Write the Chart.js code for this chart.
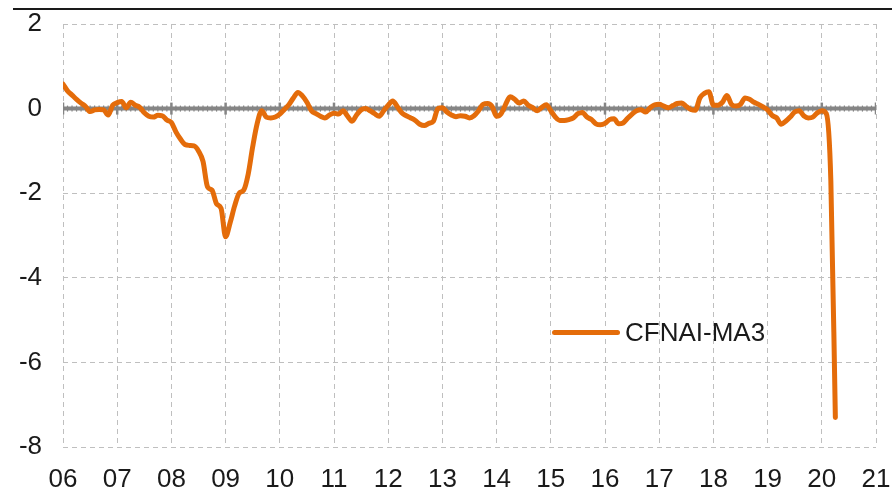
<!DOCTYPE html>
<html>

<head>
    <meta charset="UTF-8">
    <title>CFNAI-MA3</title>
    <script src="https://cdn.jsdelivr.net/npm/chart.js@4.4.1/dist/chart.umd.min.js"></script>
    <style>
        body { margin: 0; background: #fff; }
        #wrap { position: relative; width: 892px; height: 489px; }
        #topline { position: absolute; left: 13px; right: 0; top: 8px; border-top: 2px solid #1a1a1a; }
        #legend { position: absolute; left: 552px; top: 316px; height: 32px; display: flex; align-items: center;
            font-family: 'Liberation Sans', Arial, sans-serif; font-size: 26px; color: #1a1a1a; }
        #legend span.swatch { display: inline-block; width: 68px; height: 5px; border-radius: 3px; background: #e46c0a; margin-right: 5px; }
    </style>
</head>

<body>
    <div id="wrap">
        <canvas id="line-chart"></canvas>
        <div id="topline"></div>
        <div id="legend"><span class="swatch"></span><span id="legend-text"></span></div>
    </div>
</body>

<script>
    // monthly values, Jan 2006 .. Apr 2020
    var seriesName = 'CFNAI-MA3';
    var yearLabels = ['06', '07', '08', '09', '10', '11', '12', '13', '14', '15', '16', '17', '18', '19', '20', '21'];
    var cfnaiMa3 = [
        0.58, 0.42, 0.32, 0.22, 0.13, 0.05, -0.07, -0.03, -0.02, -0.03, -0.15, 0.08,
        0.14, 0.17, 0.02, 0.15, 0.08, 0.03, -0.10, -0.18, -0.20, -0.16, -0.17, -0.27,
        -0.33, -0.55, -0.72, -0.85, -0.87, -0.88, -1.00, -1.25, -1.85, -1.93, -2.25, -2.36,
        -3.03, -2.70, -2.30, -2.00, -1.93, -1.55, -0.90, -0.35, -0.05, -0.20, -0.22, -0.20,
        -0.13, -0.02, 0.09, 0.25, 0.38, 0.30, 0.15, -0.05, -0.12, -0.18, -0.22, -0.15,
        -0.11, -0.13, -0.05, -0.18, -0.30, -0.15, -0.03, 0.00, -0.05, -0.12, -0.18, -0.05,
        0.08, 0.18, 0.05, -0.10, -0.17, -0.22, -0.28, -0.37, -0.40, -0.35, -0.30, 0.00,
        0.02, -0.08, -0.15, -0.19, -0.17, -0.18, -0.22, -0.17, -0.05, 0.10, 0.12, 0.05,
        -0.18, -0.12, 0.10, 0.28, 0.22, 0.13, 0.18, 0.08, 0.02, -0.05, 0.03, 0.09,
        -0.05, -0.20, -0.28, -0.28, -0.26, -0.22, -0.12, -0.09, -0.20, -0.26, -0.36, -0.38,
        -0.35, -0.26, -0.24, -0.36, -0.34, -0.23, -0.13, -0.05, -0.03, -0.08, 0.02, 0.09,
        0.10, 0.06, 0.02, 0.07, 0.12, 0.13, 0.05, -0.02, -0.04, 0.25, 0.36, 0.40,
        0.08, 0.08, 0.15, 0.31, 0.10, 0.06, 0.10, 0.25, 0.22, 0.15, 0.10, 0.04,
        -0.03, -0.16, -0.22, -0.37, -0.30, -0.20, -0.08, -0.05, -0.17, -0.22, -0.20, -0.10,
        -0.05, -0.12, -1.70, -7.30
    ];

    var orange = '#e46c0a';
    var gridGray = '#bfbfbf';
    var axisGray = '#858585';
    var font = { family: "'Liberation Sans', Arial, sans-serif", size: 26 };

    var linePoints = cfnaiMa3.map(function (v, i) { return { x: i, y: v }; });
    // the zero axis line, with a small mark each month and a bigger one each year
    var zeroPoints = [];
    for (var m = 0; m <= 12 * (yearLabels.length - 1); m++) {
        zeroPoints.push({ x: m, y: 0 });
    }

    document.getElementById('legend-text').textContent = seriesName;

    var chart = new Chart(document.getElementById('line-chart'), {
        type: 'line',
        data: {
            datasets: [{
                label: seriesName,
                data: linePoints,
                borderColor: orange,
                borderWidth: 5,
                pointRadius: 0,
                cubicInterpolationMode: 'monotone',
                borderCapStyle: 'round',
                borderJoinStyle: 'round',
                fill: false
            }, {
                label: 'zero',
                data: zeroPoints,
                borderColor: axisGray,
                borderWidth: 4,
                pointStyle: 'line',
                rotation: 90,
                pointBorderColor: axisGray,
                pointBorderWidth: function (ctx) { return ctx.dataIndex % 12 === 0 ? 2.5 : 1.2; },
                pointRadius: function (ctx) { return ctx.dataIndex % 12 === 0 ? 6 : 3; },
                fill: false
            }]
        },
        options: {
            responsive: true,
            maintainAspectRatio: false,
            animation: false,
            layout: { padding: { left: 0, right: 16, top: 24, bottom: 0 } },
            plugins: {
                legend: { display: false },
                tooltip: { enabled: false }
            },
            scales: {
                x: {
                    type: 'linear',
                    min: 0,
                    max: 180,
                    border: { display: false, dash: [5, 4] },
                    grid: { color: gridGray, lineWidth: 1, drawTicks: false },
                    ticks: {
                        stepSize: 12,
                        padding: 17,
                        color: '#1a1a1a',
                        font: font,
                        maxRotation: 0,
                        autoSkip: false,
                        callback: function (v) { return yearLabels[v / 12]; }
                    },
                    afterFit: function (scale) {
                        scale.height = 42;
                        scale.paddingLeft = 0;
                        scale.paddingRight = 0;
                    }
                },
                y: {
                    min: -8,
                    max: 2,
                    border: { display: false, dash: [5, 4] },
                    grid: { color: gridGray, lineWidth: 1, drawTicks: false },
                    ticks: { stepSize: 2, padding: 21, color: '#1a1a1a', font: font },
                    afterFit: function (scale) {
                        scale.width = 63;
                        scale.paddingTop = 0;
                        scale.paddingBottom = 0;
                    }
                }
            }
        }
    });
</script>

</html>
